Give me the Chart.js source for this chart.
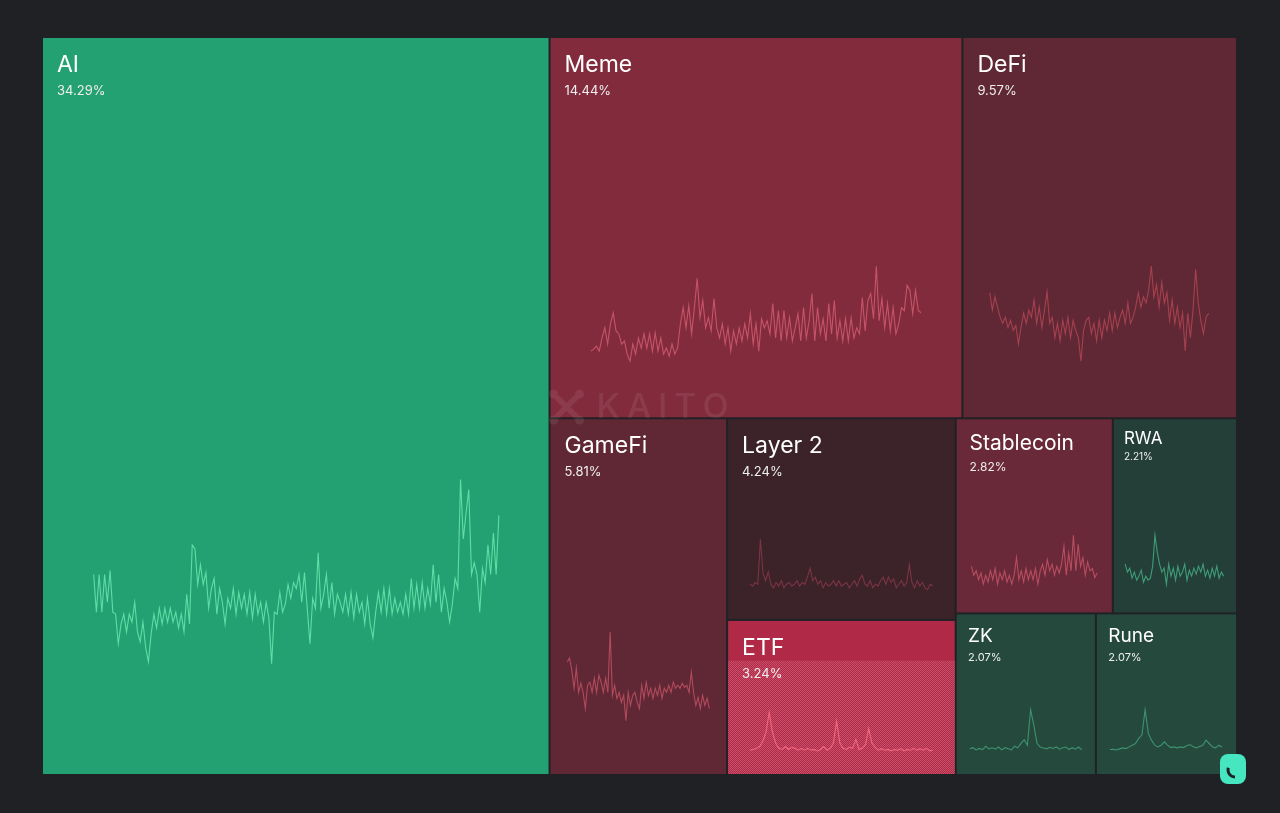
<!DOCTYPE html>
<html>
<head>
<meta charset="utf-8">
<title>Sector mindshare</title>
<script src="https://cdn.jsdelivr.net/npm/chart.js@4.4.1/dist/chart.umd.min.js"></script>
<style>
  html, body { margin: 0; padding: 0; background: #202125; }
  #wrap { width: 1280px; height: 813px; position: relative; }
</style>
</head>
<body>
<div id="wrap"><canvas id="treeChart"></canvas></div>
<script>
// sectors and their share of mindshare (%)
const categories = ['AI', 'Meme', 'DeFi', 'GameFi', 'Layer 2', 'ETF', 'Stablecoin', 'RWA', 'ZK', 'Rune'];
const shares = [34.29, 14.44, 9.57, 5.81, 4.24, 3.24, 2.82, 2.21, 2.07, 2.07];

// sparkline trends (relative units)
const aiTrend = [47,28,47,28,47,33,49,28,27,12,22,27,18,27,23,33,18,13,23,10,3,17,27,20,30,22,30,23,30,23,28,20,27,18,37,22,62,60,42,52,42,48,30,40,45,27,40,33,22,35,30,40,27,38,30,37,27,38,25,37,27,33,23,33,25,2,28,27,38,28,32,42,35,43,40,47,33,48,30,12,35,30,58,30,37,47,30,43,27,37,33,28,37,27,38,25,37,28,33,22,35,22,15,28,38,28,40,27,40,27,35,28,33,27,37,27,45,30,42,30,43,30,40,32,52,33,47,28,40,33,23,32,45,40,95,65,78,90,47,53,47,28,50,43,62,47,68,47,77];
const memeTrend = [15,17,20,15,28,38,22,42,53,35,32,22,25,12,5,22,12,28,18,32,18,32,15,33,15,28,12,18,10,22,12,18,42,58,38,60,32,58,87,48,65,38,48,35,67,38,28,42,22,38,15,35,22,38,25,42,28,52,22,42,15,47,38,45,32,62,28,55,25,55,28,48,25,38,52,25,58,28,45,72,25,58,32,47,25,62,32,65,28,45,25,47,25,48,28,38,32,68,35,65,72,47,99,45,67,38,62,35,58,32,42,58,55,80,75,52,75,55,53];
const defiTrend = [72,55,68,58,48,42,48,38,45,35,40,22,38,52,42,55,48,65,42,58,38,55,73,42,48,28,42,25,45,32,48,28,45,35,28,5,35,45,48,32,42,25,45,28,45,35,52,35,52,38,48,55,42,62,42,48,58,72,58,68,62,75,98,68,80,58,82,62,72,45,65,42,58,38,52,15,52,28,55,95,62,45,32,48,52];
const gamefiTrend = [63,67,55,37,57,33,42,33,17,40,43,33,47,33,50,43,33,47,33,93,30,40,27,33,23,30,5,33,20,30,33,23,17,40,27,43,30,37,27,37,30,40,27,37,33,40,33,43,37,40,37,42,38,40,33,53,33,20,28,17,30,20,27,17];
const layer2Trend = [40,35,45,40,165,70,50,75,40,30,45,35,50,30,40,45,35,40,50,35,45,40,60,85,50,60,40,50,30,45,35,40,50,35,50,35,40,45,30,40,50,35,55,65,40,35,50,30,40,35,50,60,40,60,45,55,30,40,50,35,45,95,45,30,50,35,45,30,25,40,35];
const etfTrend = [20,22,25,30,45,70,125,70,40,25,22,30,22,28,25,20,25,20,25,20,22,18,22,30,20,25,40,100,40,25,22,28,25,50,22,25,35,80,40,28,20,24,20,22,18,22,20,24,18,22,20,25,20,24,20,25,18,20];
const stableTrend = [75,55,65,45,60,35,55,40,65,45,70,35,60,45,65,40,55,35,55,95,45,65,40,70,45,65,45,70,35,65,80,55,90,65,80,55,75,60,80,120,55,105,65,145,65,125,75,95,55,85,65,70,50,60];
const rwaTrend = [75,55,65,40,55,35,45,60,30,45,35,40,70,147,105,75,55,65,25,75,45,65,35,70,45,55,75,35,60,45,65,50,70,55,75,45,60,40,65,45,70,40,55,45];
const zkTrend = [25,28,22,26,23,32,25,28,24,30,22,28,25,22,32,28,40,50,35,132,90,40,30,27,25,29,26,30,24,28,30,23,28,24,30,22];
const runeTrend = [17,18,16,19,22,20,25,30,35,50,60,135,65,45,30,25,30,40,30,23,25,22,25,23,28,32,25,22,26,30,45,35,25,22,30,24];
const trends = [aiTrend, memeTrend, defiTrend, gamefiTrend, layer2Trend, etfTrend, stableTrend, rwaTrend, zkTrend, runeTrend];

// styles
const fillColors = ['#24a173', '#822b3c', '#602835', '#602835', '#3c2329', '#b02a47', '#6a2938', '#243f37', '#254a3d', '#254a3d'];
const lineColors = ['#62dca6', '#c65468', '#a5414f', '#b04a5c', '#7a3445', '#f2677f', '#b74d61', '#3f9c79', '#3d9270', '#3d9270'];

const PAD = { left: 43, top: 38, right: 44, bottom: 39 };
const AREA_W = 1280 - PAD.left - PAD.right;
const AREA_H = 813 - PAD.top - PAD.bottom;

// squarified treemap layout, in the units of the main x/y scales
function worst(row, side) {
    const s = row.reduce((a, b) => a + b, 0);
    let w = 0;
    row.forEach(a => {
        w = Math.max(w, (side * side * a) / (s * s), (s * s) / (side * side * a));
    });
    return w;
}

function squarify(values, rect) {
    const total = values.reduce((a, b) => a + b, 0);
    const areas = values.map(v => v / total * rect.w * rect.h);
    const out = [];
    let r = { ...rect };
    let i = 0;
    while (i < areas.length) {
        const side = Math.min(r.w, r.h);
        let row = [areas[i]];
        let j = i + 1;
        while (j < areas.length) {
            const next = row.concat(areas[j]);
            if (worst(next, side) <= worst(row, side)) { row = next; j++; } else break;
        }
        const sum = row.reduce((a, b) => a + b, 0);
        if (r.w >= r.h) {
            const t = sum / r.h;
            let y = r.y;
            row.forEach(a => { const h = a / t; out.push({ x: r.x, y, w: t, h }); y += h; });
            r = { x: r.x + t, y: r.y, w: r.w - t, h: r.h };
        } else {
            const t = sum / r.w;
            let x = r.x;
            row.forEach(a => { const w = a / t; out.push({ x, y: r.y, w, h: t }); x += w; });
            r = { x: r.x, y: r.y + t, w: r.w, h: r.h - t };
        }
        i = j;
    }
    return out;
}

const cells = squarify(shares, { x: 0, y: 0, w: AREA_W, h: AREA_H });

// each sparkline gets its own hidden x/y scale, placed inside its cell
const scales = {
    x: { type: 'linear', min: 0, max: AREA_W, display: false },
    y: { type: 'linear', min: 0, max: AREA_H, reverse: true, display: false }
};
cells.forEach((c, i) => {
    const n = trends[i].length;
    const fx0 = (c.x + 0.1 * c.w) / AREA_W, fx1 = (c.x + 0.9 * c.w) / AREA_W;
    const xr = (n - 1) / (fx1 - fx0);
    const xmin = -fx0 * xr;
    const dmin = Math.min(...trends[i]), dmax = Math.max(...trends[i]);
    const t0 = (c.y + 0.6 * c.h) / AREA_H, t1 = (c.y + 0.85 * c.h) / AREA_H;
    const yr = (dmax - dmin) / (t1 - t0);
    const ymax = dmax + t0 * yr;
    scales['sx' + i] = { type: 'linear', axis: 'x', position: 'bottom', display: false, bounds: 'data', min: xmin, max: xmin + xr };
    scales['sy' + i] = { type: 'linear', axis: 'y', position: 'left', display: false, bounds: 'data', min: ymax - yr, max: ymax };
});

const datasets = trends.map((t, i) => ({
    label: categories[i],
    data: t.map((v, k) => ({ x: k, y: v })),
    xAxisID: 'sx' + i,
    yAxisID: 'sy' + i,
    borderColor: lineColors[i],
    borderWidth: 1.1,
    pointRadius: 0,
    tension: 0,
    fill: false
}));

// cell rectangle in pixels, with a 2px gap between neighbours only
function cellBox(chart, c) {
    const xs = chart.scales.x, ys = chart.scales.y;
    const x0 = xs.getPixelForValue(c.x), x1 = xs.getPixelForValue(c.x + c.w);
    const y0 = ys.getPixelForValue(c.y), y1 = ys.getPixelForValue(c.y + c.h);
    const e = 0.5;
    return {
        x0: c.x > e ? x0 + 1 : x0,
        y0: c.y > e ? y0 + 1 : y0,
        x1: c.x + c.w < AREA_W - e ? x1 - 1 : x1,
        y1: c.y + c.h < AREA_H - e ? y1 - 1 : y1
    };
}

function dither(ctx, a, b) {
    const p = document.createElement('canvas');
    p.width = 2; p.height = 2;
    const pc = p.getContext('2d');
    pc.fillStyle = a; pc.fillRect(0, 0, 2, 2);
    pc.fillStyle = b; pc.fillRect(0, 0, 1, 1); pc.fillRect(1, 1, 1, 1);
    return ctx.createPattern(p, 'repeat');
}

const treemapCells = {
    id: 'treemapCells',
    beforeDatasetsDraw(chart) {
        const ctx = chart.ctx;
        ctx.save();
        cells.forEach((c, i) => {
            const b = cellBox(chart, c);
            ctx.fillStyle = fillColors[i];
            ctx.fillRect(b.x0, b.y0, b.x1 - b.x0, b.y1 - b.y0);
            if (categories[i] === 'ETF') {
                // hover highlight texture
                const top = b.y0 + 0.26 * (b.y1 - b.y0);
                ctx.fillStyle = dither(ctx, fillColors[i], '#c9506a');
                ctx.fillRect(b.x0, top, b.x1 - b.x0, b.y1 - top);
            }
        });
        ctx.restore();
    },
    afterDatasetsDraw(chart) {
        const ctx = chart.ctx;
        const area = chart.chartArea;
        ctx.save();
        cells.forEach((c, i) => {
            const b = cellBox(chart, c);
            const s = Math.min(1, (b.x1 - b.x0) / 170);
            const px = b.x0 + 14 * s;
            ctx.textBaseline = 'alphabetic';
            ctx.textAlign = 'left';
            ctx.fillStyle = '#ffffff';
            ctx.font = `400 ${Math.round(23 * s)}px Inter`;
            ctx.fillText(categories[i], px, b.y0 + 34 * s);
            ctx.fillStyle = '#eeeeee';
            ctx.font = `400 ${Math.max(10, Math.round(13 * s))}px Inter`;
            ctx.fillText(shares[i].toFixed(2) + '%', px, b.y0 + 57 * s);
        });

        // watermark
        const cx = (area.left + area.right) / 2;
        const cy = (area.top + area.bottom) / 2 + 1;
        ctx.strokeStyle = 'rgba(255,255,255,0.08)';
        ctx.fillStyle = 'rgba(255,255,255,0.08)';
        ctx.lineWidth = 6;
        const ix = cx - 73;
        ctx.beginPath();
        ctx.moveTo(ix - 10, cy - 10); ctx.lineTo(ix + 10, cy + 10);
        ctx.moveTo(ix + 10, cy - 10); ctx.lineTo(ix - 10, cy + 10);
        ctx.stroke();
        [[-13, -13], [13, -13], [-13, 13], [13, 13]].forEach(([dx, dy]) => {
            ctx.beginPath(); ctx.arc(ix + dx, cy + dy, 4.5, 0, Math.PI * 2); ctx.fill();
        });
        ctx.font = '500 34px Inter';
        ctx.textBaseline = 'middle';
        ctx.letterSpacing = '7px';
        ctx.fillText('KAITO', cx - 43, cy + 1);
        ctx.letterSpacing = '0px';

        // corner badge
        ctx.fillStyle = '#46e6c0';
        ctx.beginPath();
        ctx.roundRect(area.right - 16, area.bottom - 20, 26, 30, 8);
        ctx.fill();
        ctx.strokeStyle = '#202125';
        ctx.lineWidth = 3;
        ctx.beginPath();
        ctx.arc(area.right - 1, area.bottom - 4, 7, Math.PI * 0.5, Math.PI * 1.1);
        ctx.stroke();
        ctx.restore();
    }
};

new Chart(document.getElementById('treeChart').getContext('2d'), {
    type: 'line',
    data: { datasets },
    options: {
        responsive: true,
        maintainAspectRatio: false,
        animation: false,
        layout: { padding: PAD },
        scales,
        plugins: {
            legend: { display: false },
            tooltip: { enabled: false }
        }
    },
    plugins: [treemapCells]
});
</script>
</body>
</html>
